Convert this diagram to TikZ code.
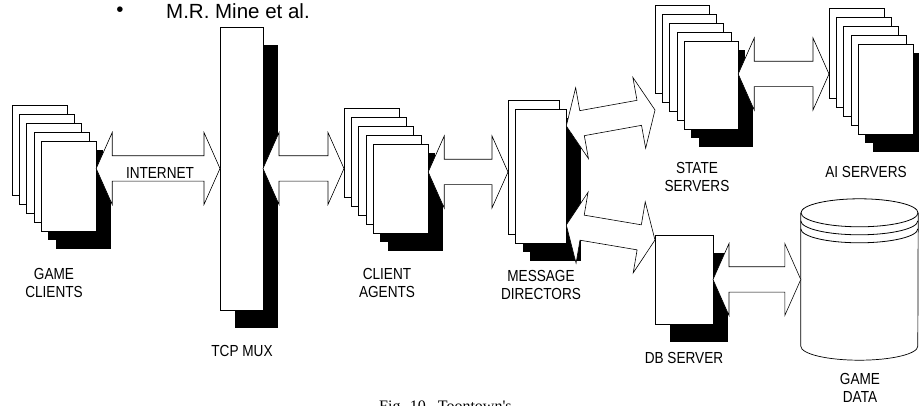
\documentclass[tikz,border=0pt]{standalone}
\usepackage{fontspec}
\setmainfont{Liberation Sans}
\newfontfamily\labelfont[FakeStretch=0.85]{Liberation Sans}
\newfontfamily\capfont{Liberation Serif}
\usetikzlibrary{calc}

\tikzset{
  sheet/.style={draw, fill=white, line width=0.8pt, inner sep=0pt, outer sep=0pt, anchor=north west},
  blockarrow/.style={draw, fill=white, line width=0.6pt, line join=miter},
  lbl/.style={font={\labelfont\fontsize{16pt}{18pt}\selectfont}, align=center, inner sep=0pt},
}

% arrow head length, head half width, shaft half width
\newcommand{\arrhead}{16pt}
\newcommand{\arrwide}{36pt}
\newcommand{\arrshaft}{12.7pt}

% stack of sheets with drop shadows: name, x, y, count, width, height
\newcommand{\sheetstack}[6]{%
  \foreach \i in {1,...,#4} {
    \fill ({#2+7.3*(\i-1)+14.5}, {#3+9*(\i-1)+18}) rectangle ++(#5,#6);
  }
  \foreach \i in {1,...,#4} {
    \node[sheet, minimum width=#5pt, minimum height=#6pt] (#1\i) at ({#2+7.3*(\i-1)}, {#3+9*(\i-1)}) {};
  }
}

% double headed block arrow between two points
\newcommand{\dblarrow}[2]{%
  \coordinate (ha) at ($(#1)!\arrhead!(#2)$);
  \coordinate (hb) at ($(#2)!\arrhead!(#1)$);
  \draw[blockarrow] (#1)
    -- ($(ha)!\arrwide!90:(#2)$) -- ($(ha)!\arrshaft!90:(#2)$)
    -- ($(hb)!\arrshaft!-90:(#1)$) -- ($(hb)!\arrwide!-90:(#1)$)
    -- (#2)
    -- ($(hb)!\arrwide!90:(#1)$) -- ($(hb)!\arrshaft!90:(#1)$)
    -- ($(ha)!\arrshaft!-90:(#2)$) -- ($(ha)!\arrwide!-90:(#2)$)
    -- cycle;
}

\begin{document}
\begin{tikzpicture}[x=1pt, y=-1pt]
  \path[use as bounding box, clip] (0,0) rectangle (919,406);

  % Header
  \node[font=\fontsize{20.5pt}{24pt}\selectfont, inner sep=0pt] (dot) at (120,12) {•};
  \node[font=\fontsize{20.5pt}{24pt}\selectfont, inner sep=0pt, anchor=base west] (author) at (166,18.5) {M.R. Mine et al.};

  % Stacks of machines
  \sheetstack{gc}{12}{105}{5}{55}{90}
  \sheetstack{ca}{344}{108}{5}{55}{89}
  \sheetstack{md}{508}{100}{2}{51}{134}
  \sheetstack{ss}{655}{5}{5}{54}{88}
  \sheetstack{ai}{829}{8}{5}{55}{90}

  % TCP mux
  \fill (234.5,45) rectangle ++(43,283);
  \node[sheet, minimum width=43pt, minimum height=283pt] (mux) at (220,27) {};

  % DB server
  \fill (669.5,253) rectangle ++(58,89);
  \node[sheet, minimum width=58pt, minimum height=89pt] (db) at (655,235) {};

  % Game data cylinder
  \node[minimum width=117pt, minimum height=133pt, inner sep=0pt] (gd) at (859.5,279.5) {};
  \draw[fill=white, line width=0.7pt] (gd.north west) -- (gd.south west)
    arc[start angle=180, end angle=0, x radius=58.5, y radius=14] -- (gd.north east);
  \draw[line width=0.8pt] (gd.north) ellipse[x radius=58.5, y radius=14];
  \draw[line width=0.8pt] ([yshift=-8pt]gd.north west) arc[start angle=180, end angle=0, x radius=58.5, y radius=14];
  \draw[line width=0.8pt] ([yshift=-16pt]gd.north west) arc[start angle=180, end angle=0, x radius=58.5, y radius=14];

  % Arrow ends
  \coordinate (gcout) at (gc5.east |- mux.west);
  \coordinate (cain) at (ca1.west |- mux.east);
  \coordinate (mdin) at ([yshift=-5pt]md1.west);
  \coordinate (caout) at (ca5.east |- mdin);
  \coordinate (mdup) at ([yshift=-17pt]md2.north east);
  \coordinate (ssin) at ([yshift=-17pt]ss1.south west);
  \coordinate (mddown) at ([yshift=18pt]md2.south east);
  \coordinate (dbin) at ([yshift=-5pt]db.north west);
  \coordinate (ssout) at ([yshift=-33pt]ss5.north east);
  \coordinate (aiin) at (ai1.west |- ssout);
  \coordinate (dbout) at (db.east |- gd.west);

  % Arrows
  \dblarrow{gcout}{mux.west}
  \dblarrow{mux.east}{cain}
  \dblarrow{caout}{mdin}
  \dblarrow{mdup}{ssin}
  \dblarrow{mddown}{dbin}
  \dblarrow{ssout}{aiin}
  \dblarrow{dbout}{gd.west}

  % Labels
  \node[lbl] (internet) at (160,173) {INTERNET};
  \node[lbl] (gclbl) at (54,283) {GAME\\CLIENTS};
  \node[lbl] (muxlbl) at (242,351) {TCP MUX};
  \node[lbl] (calbl) at (387,283) {CLIENT\\AGENTS};
  \node[lbl] (mdlbl) at (541,285) {MESSAGE\\DIRECTORS};
  \node[lbl] (sslbl) at (697,177) {STATE\\SERVERS};
  \node[lbl] (ailbl) at (866,172) {AI SERVERS};
  \node[lbl] (dblbl) at (684,358) {DB SERVER};
  \node[lbl] (gdlbl) at (860,388) {GAME\\DATA};

  % Caption (cut off at the bottom)
  \node[font={\capfont\fontsize{16pt}{19pt}\selectfont}, inner sep=0pt, anchor=base west] (caption) at (379,411) {Fig. 10.\ \ Toontown's};
\end{tikzpicture}
\end{document}
